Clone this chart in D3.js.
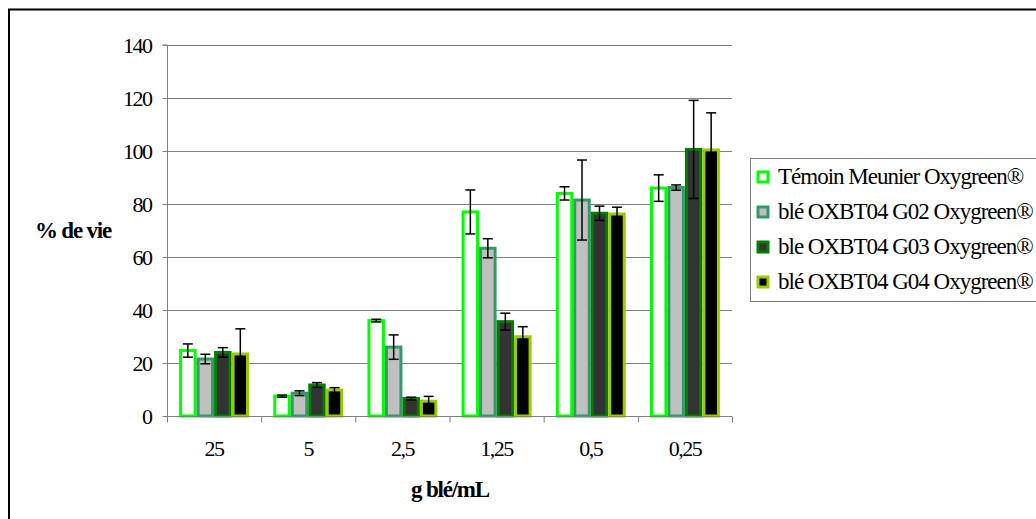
<!DOCTYPE html>
<html><head><meta charset="utf-8">
<script src="https://cdn.jsdelivr.net/npm/d3@7"></script>
<style>
html,body{margin:0;padding:0;background:#fff;}
svg{display:block;}
svg text{font-family:"Liberation Serif","Times New Roman",serif !important;}
</style></head>
<body>
<svg id="chart" width="1036" height="519"></svg>
<script>
const categories = ["25","5","2,5","1,25","0,5","0,25"];
const seriesNames = ["Témoin Meunier Oxygreen®","blé OXBT04 G02 Oxygreen®","ble OXBT04 G03 Oxygreen®","blé OXBT04 G04 Oxygreen®"];
const temoin = [24.7, 7.5, 36, 77, 84, 86];
const temoinErr = [2.5, 0.4, 0.5, 8.3, 2.5, 5];
const g02 = [21.5, 8.6, 26, 63.3, 81.5, 86.2];
const g02Err = [1.8, 0.9, 4.6, 3.6, 15.1, 1];
const g03 = [24, 11.7, 6.6, 35.6, 76.5, 100.6];
const g03Err = [1.8, 0.9, 0.5, 3.2, 2.7, 18.5];
const g04 = [23.4, 9.8, 5.6, 29.9, 76.2, 100.4];
const g04Err = [9.5, 0.9, 1.8, 3.8, 2.6, 14];
const yTicks = [0,20,40,60,80,100,120,140];
const fills = ["#FFFFFF","#C0C0C0","#333333","#000000"];
const strokes = ["#00FF00","#339966","#008000","#99CC00"];

const values = [temoin, g02, g03, g04];
const errs = [temoinErr, g02Err, g03Err, g04Err];
const FF = "'Liberation Serif','Times New Roman',serif";

const svg = d3.select("#chart");
// outer frame
svg.append("rect").attr("x",9).attr("y",9.5).attr("width",1040).attr("height",520)
  .attr("fill","none").attr("stroke","#000").attr("stroke-width",2);

const pL=167, pR=732, pT=45, pB=416;
const y = d3.scaleLinear().domain([0,140]).range([pB,pT]);
const x0 = d3.scaleBand().domain(categories).range([pL,pR]).paddingInner(0.257).paddingOuter(0.1285);
const x1 = d3.scaleBand().domain(d3.range(4)).range([0,x0.bandwidth()]);

// gridlines
svg.append("g").selectAll("line").data(yTicks.filter(d=>d>0)).join("line")
  .attr("x1",pL).attr("x2",pR).attr("y1",d=>y(d)+0.5).attr("y2",d=>y(d)+0.5)
  .attr("stroke","#808080").attr("stroke-width",1);

// bars
const data = [];
categories.forEach((c,i)=>{ for(let s=0;s<4;s++) data.push({c,s,v:values[s][i],e:errs[s][i]}); });
const sw=3;
svg.append("g").selectAll("rect").data(data).join("rect")
  .attr("x",d=>x0(d.c)+x1(d.s)+sw/2)
  .attr("y",d=>y(d.v))
  .attr("width",x1.bandwidth()-sw)
  .attr("height",d=>y(0)-y(d.v))
  .attr("fill",d=>fills[d.s]).attr("stroke",d=>strokes[d.s]).attr("stroke-width",sw);

// error bars
const eg = svg.append("g").attr("stroke","#000").attr("stroke-width",1.5);
data.forEach(d=>{
  const cx = x0(d.c)+x1(d.s)+x1.bandwidth()/2;
  const y1=y(d.v+d.e), y2=y(Math.max(0,d.v-d.e));
  eg.append("line").attr("x1",cx).attr("x2",cx).attr("y1",y1).attr("y2",y2);
  eg.append("line").attr("x1",cx-5).attr("x2",cx+5).attr("y1",y1).attr("y2",y1);
  eg.append("line").attr("x1",cx-5).attr("x2",cx+5).attr("y1",y2).attr("y2",y2);
});

// y axis
const yAxis = d3.axisLeft(y).tickValues(yTicks).tickSize(5).tickPadding(11).tickFormat(d3.format("d"));
const ya = svg.append("g").attr("transform",`translate(${pL+0.5},0)`).call(yAxis)
  .attr("font-family",FF);
ya.select(".domain").attr("stroke","#808080").attr("d",`M-5,${pT}H0V${pB}`);
ya.selectAll(".tick line").attr("stroke","#808080");
ya.selectAll(".tick text").attr("font-size",22).attr("fill","#000").attr("letter-spacing","-1.5px");

// x axis
const xa = svg.append("g").attr("transform",`translate(0,${pB+0.5})`).attr("font-family",FF);
xa.append("line").attr("x1",pL).attr("x2",pR).attr("stroke","#808080");
const bounds = d3.range(categories.length+1).map(i=>pL+i*(pR-pL)/categories.length);
xa.selectAll("line.tk").data(bounds).join("line").attr("class","tk")
  .attr("x1",d=>d+0.5).attr("x2",d=>d+0.5).attr("y1",0).attr("y2",6).attr("stroke","#808080");
xa.selectAll("text").data(categories).join("text")
  .attr("x",d=>x0(d)+x0.bandwidth()/2).attr("y",39)
  .attr("text-anchor","middle").attr("font-size",22).attr("letter-spacing","-1.5px").text(d=>d);

// axis titles
svg.append("text").attr("x",73).attr("y",238).attr("text-anchor","middle").attr("font-family",FF)
  .attr("font-size",23).attr("font-weight","bold").attr("letter-spacing","-1.2px").text("% de vie");
svg.append("text").attr("x",450).attr("y",497).attr("text-anchor","middle").attr("font-family",FF)
  .attr("font-size",23).attr("font-weight","bold").attr("letter-spacing","-1.2px").text("g blé/mL");

// legend
const lg = svg.append("g").attr("font-family",FF);
lg.append("rect").attr("x",750.5).attr("y",158.5).attr("width",300).attr("height",143)
  .attr("fill","#fff").attr("stroke","#808080").attr("stroke-width",1);
seriesNames.forEach((n,i)=>{
  const cy = 177 + i*35;
  lg.append("rect").attr("x",758).attr("y",cy-5).attr("width",10).attr("height",10)
    .attr("fill",fills[i]).attr("stroke",strokes[i]).attr("stroke-width",3);
  lg.append("text").attr("x",778).attr("y",cy+7).attr("font-size",23).attr("letter-spacing","-1px").text(n);
});
</script>
</body></html>
